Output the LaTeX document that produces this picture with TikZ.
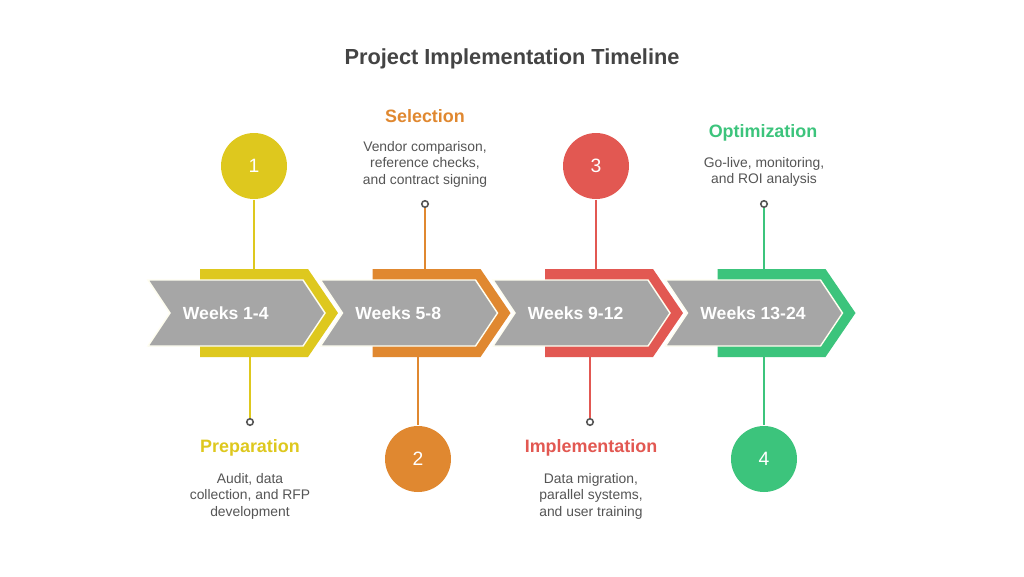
\documentclass[tikz,border=0pt]{standalone}
\usepackage{fontspec}
\setmainfont{Liberation Sans}
\usepackage{xcolor}
\usepackage{tikz}

\definecolor{amarillo}{RGB}{222,200,30}
\definecolor{naranja}{RGB}{224,136,48}
\definecolor{rojo}{RGB}{226,88,82}
\definecolor{verde}{RGB}{60,196,124}
\definecolor{grisflecha}{RGB}{166,166,166}
\definecolor{textogris}{RGB}{85,85,85}
\definecolor{titulogris}{RGB}{68,68,68}

\begin{document}
\begin{tikzpicture}[x=0.02cm, y=-0.02cm, line width=1.1pt,
    gris/.style={fill=grisflecha, draw=white!94!yellow, line width=0.8pt},
    numero/.style={circle, minimum size=1.32cm, inner sep=0, text=white, font=\fontsize{11}{13}\selectfont},
    punto/.style={circle, draw=textogris, fill=white, line width=0.9pt, inner sep=0, minimum size=0.13cm},
    semana/.style={anchor=west, inner sep=0, text=white, font=\bfseries\fontsize{10}{12}\selectfont},
    fase/.style={font=\bfseries\fontsize{10.2}{12}\selectfont},
    texto/.style={align=center, text=textogris, font=\fontsize{7.9}{9.4}\selectfont}]
        \fill[white] (0,0) rectangle (1024,576);
        \useasboundingbox (0,0) rectangle (1024,576);

        % Titulo
        \node[text=titulogris, font=\bfseries\fontsize{12.4}{14}\selectfont] (titulo) at (512,59) {Project Implementation Timeline};

        % Flechas
        \fill[amarillo] (200,269) -- (308,269) -- (338,313) -- (308,357) -- (200,357) -- cycle;
        \draw[gris] (148,280) -- (303,280) -- (325,313) -- (303,346) -- (148,346) -- (170,313) -- cycle;
        \node[semana] (s1) at (182,313) {Weeks 1-4};

        \fill[naranja] (372.5,269) -- (480.5,269) -- (510.5,313) -- (480.5,357) -- (372.5,357) -- cycle;
        \draw[gris] (320.5,280) -- (475.5,280) -- (497.5,313) -- (475.5,346) -- (320.5,346) -- (342.5,313) -- cycle;
        \node[semana] (s2) at (354.5,313) {Weeks 5-8};

        \fill[rojo] (545,269) -- (653,269) -- (683,313) -- (653,357) -- (545,357) -- cycle;
        \draw[gris] (493,280) -- (648,280) -- (670,313) -- (648,346) -- (493,346) -- (515,313) -- cycle;
        \node[semana] (s3) at (527,313) {Weeks 9-12};

        \fill[verde] (717.5,269) -- (825.5,269) -- (855.5,313) -- (825.5,357) -- (717.5,357) -- cycle;
        \draw[gris] (665.5,280) -- (820.5,280) -- (842.5,313) -- (820.5,346) -- (665.5,346) -- (687.5,313) -- cycle;
        \node[semana] (s4) at (699.5,313) {Weeks 13-24};

        % Puntos de anclaje en las bandas
        \coordinate (a1) at (254,269);
        \coordinate (b1) at (250,357);
        \coordinate (a2) at (425,269);
        \coordinate (b2) at (418,357);
        \coordinate (a3) at (596,269);
        \coordinate (b3) at (590,357);
        \coordinate (a4) at (764,269);
        \coordinate (b4) at (764,357);

        % Circulos numerados
        \node[numero, fill=amarillo] (c1) at (254,166) {1};
        \node[numero, fill=naranja] (c2) at (418,459) {2};
        \node[numero, fill=rojo] (c3) at (596,166) {3};
        \node[numero, fill=verde] (c4) at (764,459) {4};

        % Puntos pequenos
        \node[punto] (p1) at (250,422) {};
        \node[punto] (p2) at (425,204) {};
        \node[punto] (p3) at (590,422) {};
        \node[punto] (p4) at (764,204) {};

        % Lineas
        \draw[amarillo] (c1) -- (a1);
        \draw[amarillo] (b1) -- (p1);
        \draw[naranja] (p2) -- (a2);
        \draw[naranja] (b2) -- (c2);
        \draw[rojo] (c3) -- (a3);
        \draw[rojo] (b3) -- (p3);
        \draw[verde] (p4) -- (a4);
        \draw[verde] (b4) -- (c4);

        % Fases
        \node[fase, text=amarillo] (f1) at (250,448) {Preparation};
        \node[texto] (d1) at (250,496) {Audit, data\\collection, and RFP\\development};
        \node[fase, text=naranja] (f2) at (425,116) {Selection};
        \node[texto] (d2) at (425,164) {Vendor comparison,\\reference checks,\\and contract signing};
        \node[fase, text=rojo] (f3) at (591,448) {Implementation};
        \node[texto] (d3) at (591,496) {Data migration,\\parallel systems,\\and user training};
        \node[fase, text=verde] (f4) at (763,133) {Optimization};
        \node[texto] (d4) at (764,172) {Go-live, monitoring,\\and ROI analysis};
\end{tikzpicture}
\end{document}
